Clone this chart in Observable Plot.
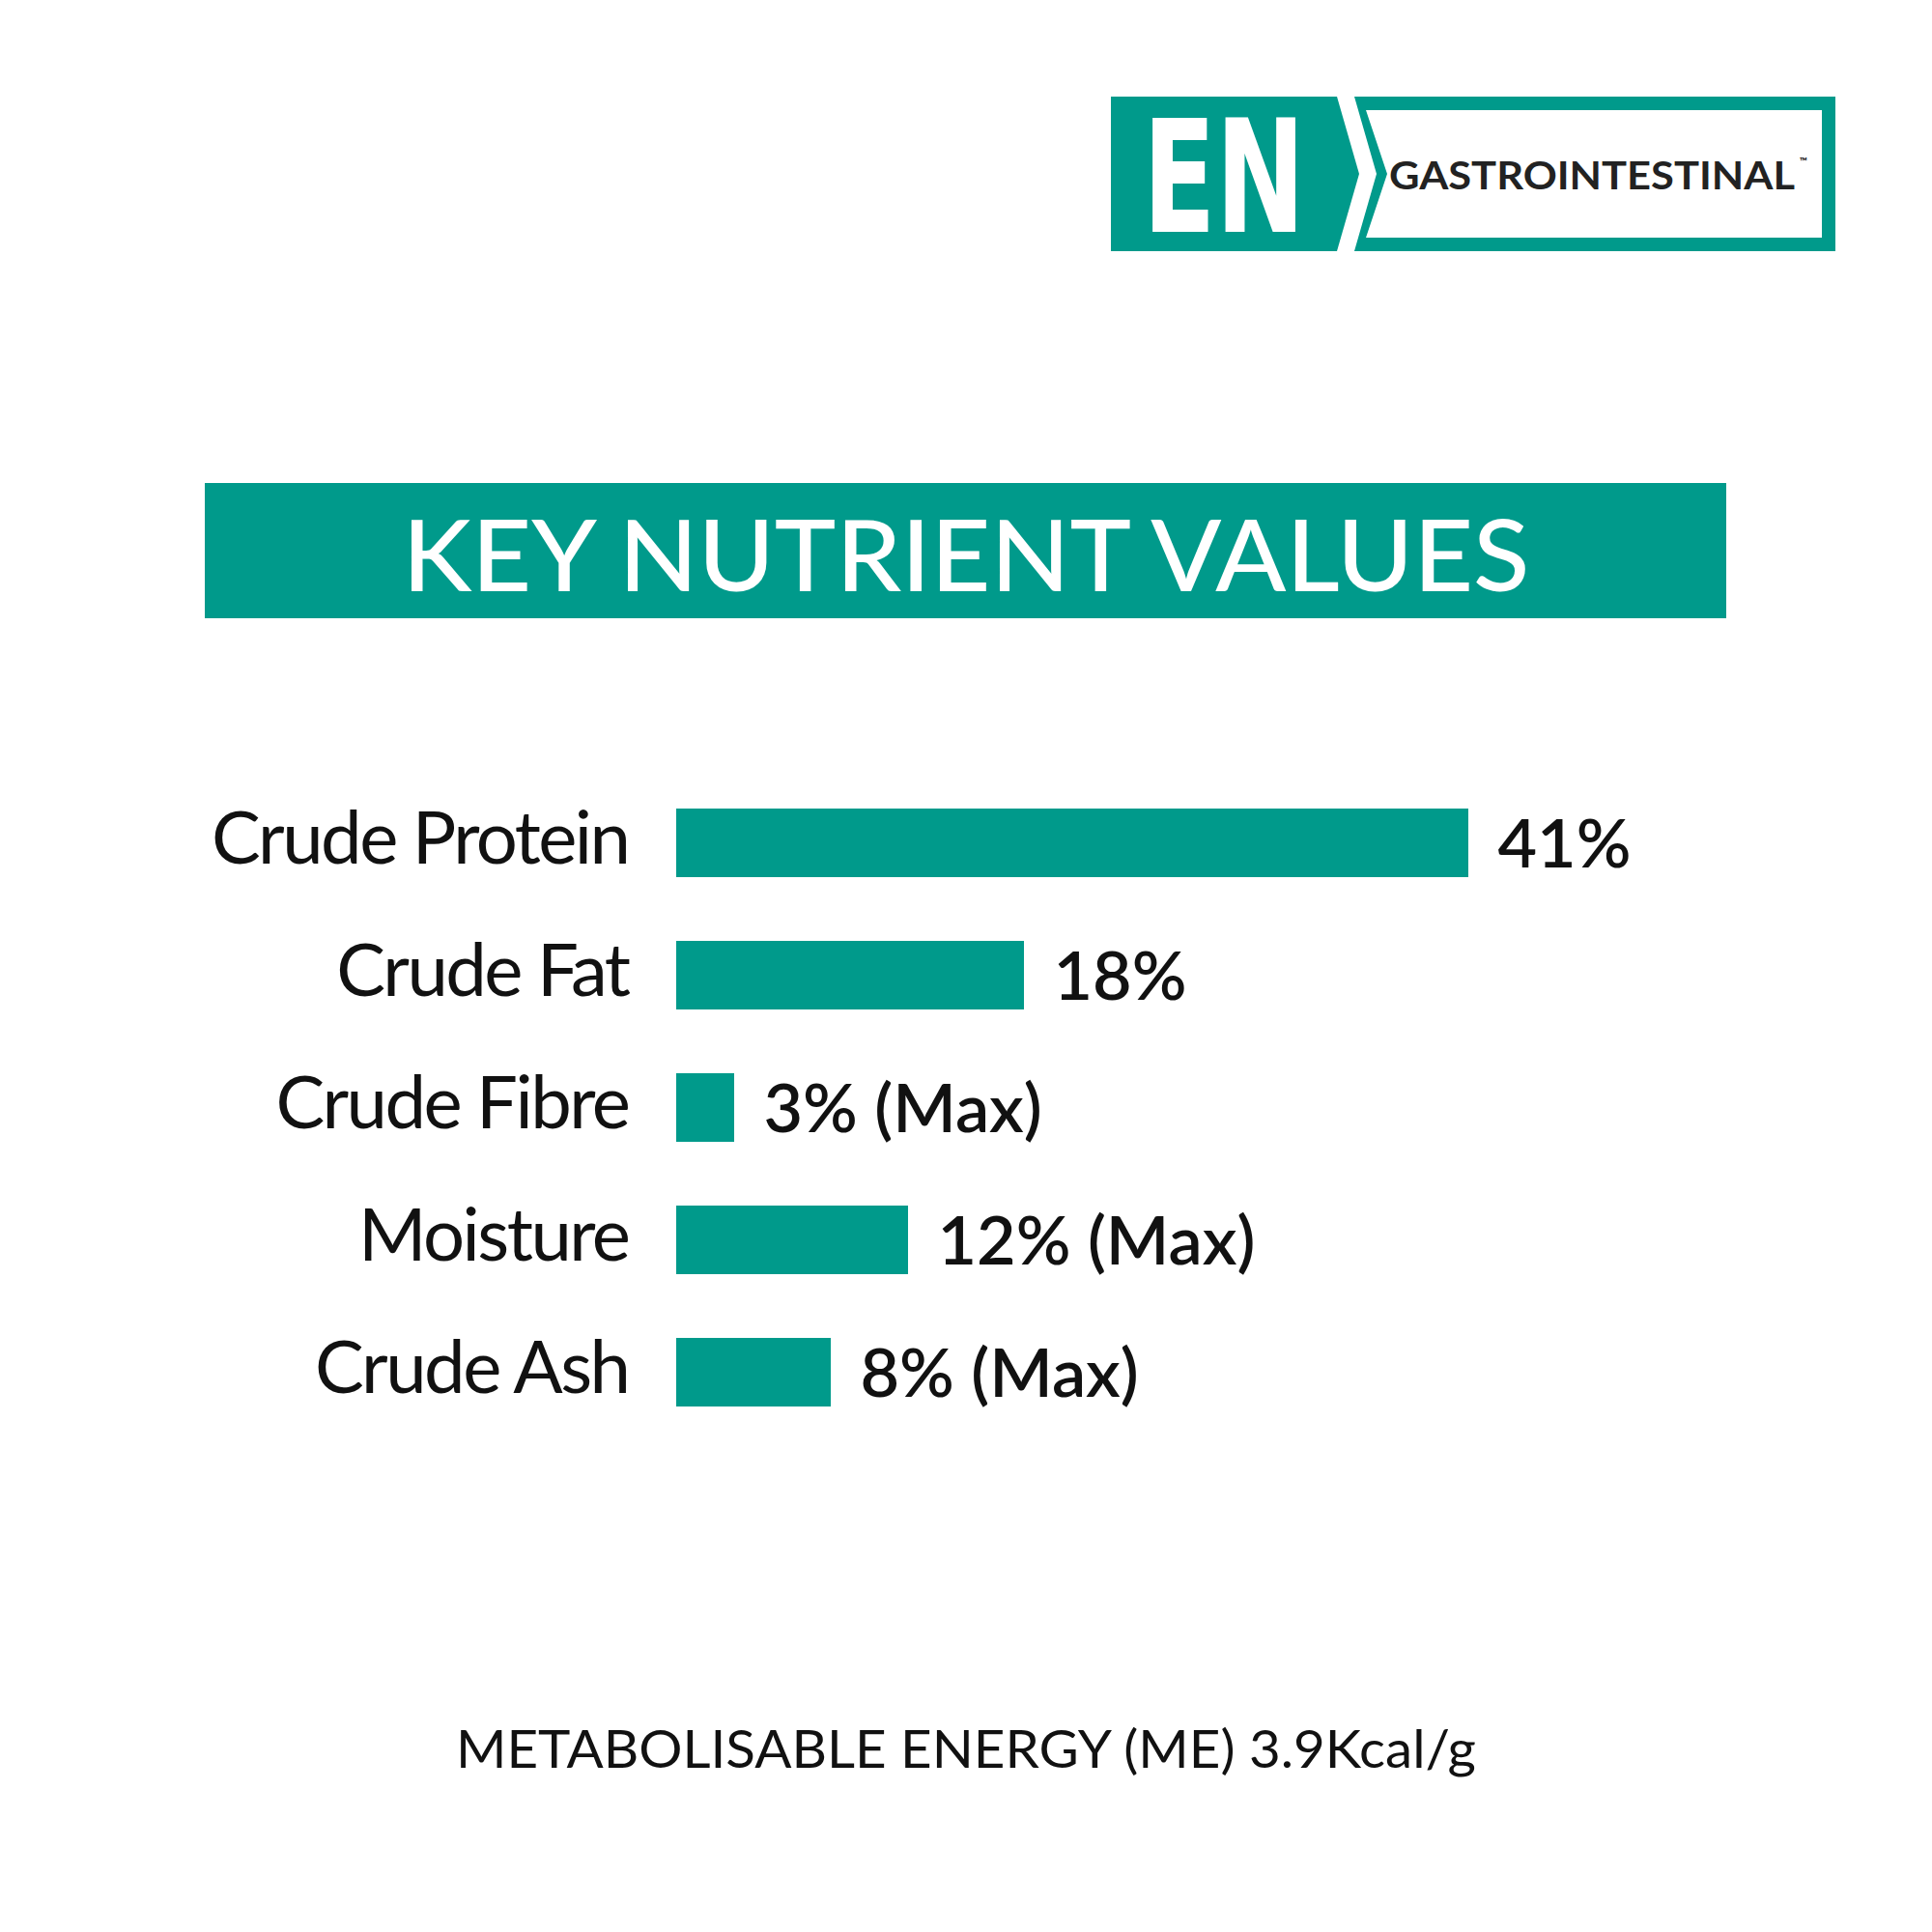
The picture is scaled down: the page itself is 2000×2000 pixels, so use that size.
<!DOCTYPE html>
<html>
<head>
<meta charset="utf-8">
<script src="https://cdn.jsdelivr.net/npm/d3@7"></script>
<script src="https://cdn.jsdelivr.net/npm/@observablehq/plot@0.6"></script>
<style>
  html, body { margin: 0; padding: 0; background: #ffffff; }
  #page { position: relative; width: 2000px; height: 2000px; overflow: hidden; background: #fff; }
  #deco { position: absolute; left: 0; top: 0; }
  #chart { position: absolute; left: 0; top: 760px; }
</style>
</head>
<body>
<div id="page">
  <svg id="deco" width="2000" height="2000" viewBox="0 0 2000 2000" xmlns="http://www.w3.org/2000/svg">
    <!-- logo -->
    <polygon points="1150,100 1384,100 1407,180 1384,260 1150,260" fill="#009a8b"/>
    <polygon points="1402,100 1900,100 1900,260 1402,260 1425,180" fill="#009a8b"/>
    <polygon points="1414,114 1886,114 1886,246 1414,246 1436,180" fill="#ffffff"/>
    <text x="1183" y="240" textLength="168" lengthAdjust="spacingAndGlyphs"
          font-family="'Liberation Sans Narrow', 'DejaVu Sans Condensed', 'Roboto', sans-serif"
          font-weight="700" font-size="163" fill="#ffffff">EN</text>
    <text x="1438" y="196" textLength="420" lengthAdjust="spacingAndGlyphs"
          font-family="Lato, 'Open Sans', sans-serif" font-weight="700" font-size="40" fill="#222">GASTROINTESTINAL</text>
    <text x="1863" y="171" font-family="Lato, sans-serif" font-weight="700" font-size="11" fill="#222">™</text>
    <!-- title banner -->
    <rect x="212" y="500" width="1575" height="140" fill="#009a8b"/>
    <text x="1000" y="612" text-anchor="middle" textLength="1167" lengthAdjust="spacingAndGlyphs"
          font-family="Lato, 'Open Sans', sans-serif" font-weight="500" font-size="103" fill="#ffffff">KEY NUTRIENT VALUES</text>
    <!-- footer -->
    <text x="1000" y="1830" text-anchor="middle" textLength="1056" lengthAdjust="spacingAndGlyphs"
          font-family="Lato, 'Open Sans', sans-serif" font-weight="400" font-size="55" fill="#111">METABOLISABLE ENERGY (ME) 3.9Kcal/g</text>
  </svg>
  <div id="chart"></div>
</div>
<script>
const categories = ["Crude Protein", "Crude Fat", "Crude Fibre", "Moisture", "Crude Ash"];
const values = [41, 18, 3, 12, 8];
const valueLabels = ["41%", "18%", "3% (Max)", "12% (Max)", "8% (Max)"];

const data = categories.map((c, i) => ({category: c, value: values[i], label: valueLabels[i]}));

const chart = Plot.plot({
  width: 2000,
  height: 800,
  marginLeft: 700,
  marginRight: 480,
  marginTop: 42,
  marginBottom: 69,
  style: {fontFamily: "Lato, 'Open Sans', sans-serif", background: "transparent", color: "#111"},
  x: {domain: [0, 41], axis: null},
  y: {domain: categories, paddingInner: 0.482, paddingOuter: 0.241, label: null},
  marks: [
    Plot.barX(data, {x: "value", y: "category", fill: "#009a8b"}),
    Plot.text(data, {x: "value", y: "category", text: "label", textAnchor: "start", dx: 30, dy: 3,
      fontSize: 70, fontWeight: 600, fill: "#111", lineAnchor: "middle"}),
    Plot.axisY({tickSize: 0, tickPadding: 50, fontSize: 76, fontWeight: 400, label: null, dy: -3,
      tickFormat: d => d})
  ]
});
chart.querySelectorAll("g[aria-label='y-axis tick label'] text").forEach(t => t.style.letterSpacing = "-2.5px");
document.getElementById("chart").appendChild(chart);
</script>
</body>
</html>
